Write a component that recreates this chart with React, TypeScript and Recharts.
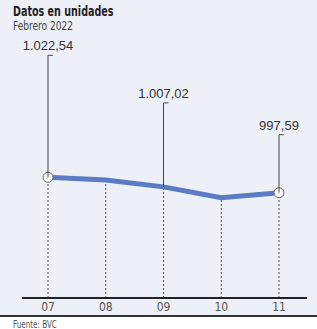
import React from 'react';
import { LineChart, Line, XAxis, YAxis, ReferenceLine, LabelList } from 'recharts';

const days = ['07', '08', '09', '10', '11'];
const closes = [1022.54, 1018.2, 1007.02, 989.5, 997.59];
const labelled = ['1.022,54', '', '1.007,02', '', '997,59'];

// how far above its point each callout sits (px)
const calloutLift: Record<string, number> = { '07': 122, '09': 84, '11': 58 };

const data = days.map((d, i) => ({ day: d, close: closes[i], tag: labelled[i] }));

const BG = '#eef0f7';
const LINE = '#5b7cc4';
const narrow = '"Liberation Sans Narrow", "DejaVu Sans Condensed", "Liberation Sans", sans-serif';
const Y_MIN = 827;

const Callout = (props: any) => {
  const { x, y, index } = props;
  const d = data[index];
  if (!d || !d.tag) return null;
  const lift = calloutLift[d.day];
  const top = y - lift;
  return (
    <g>
      <polyline points={`${x + 5},${top} ${x},${top} ${x},${y}`} fill="none" stroke="#444" strokeWidth={1} />
      <text x={x} y={top - 5} textAnchor="middle" fontSize={13} fill="#333" fontFamily='"Liberation Sans", Arial, sans-serif'>
        {d.tag}
      </text>
    </g>
  );
};

const EndDot = (props: any) => {
  const { cx, cy, index } = props;
  if (index !== 0 && index !== data.length - 1) return <g key={`d${index}`} />;
  return <circle key={`d${index}`} cx={cx} cy={cy} r={5} fill="#fff" stroke="#666" strokeWidth={1} />;
};

const squeeze = (k: number): React.CSSProperties => ({
  position: 'absolute',
  whiteSpace: 'nowrap',
  transform: `scaleX(${k})`,
  transformOrigin: 'left top',
});

export default function App() {
  return (
    <div style={{ position: 'absolute', left: 0, top: 0, width: 317, height: 329, background: '#fff', overflow: 'hidden' }}>
      <div style={{ position: 'absolute', left: 0, top: 0, width: 317, height: 316, background: BG }} />
      <div style={{ ...squeeze(0.76), left: 13, top: 3, fontFamily: narrow, fontWeight: 700, fontSize: 14, color: '#222', lineHeight: '16px' }}>
        Datos en unidades
      </div>
      <div style={{ ...squeeze(0.84), left: 13, top: 19, fontFamily: narrow, fontSize: 12, color: '#444', lineHeight: '14px' }}>
        Febrero 2022
      </div>
      <div style={{ position: 'absolute', left: 0, top: 0 }}>
        <LineChart width={317} height={316} data={data} margin={{ top: 40, right: 10, bottom: 0, left: 22 }}>
          <YAxis hide domain={[Y_MIN, 1245]} />
          <XAxis
            dataKey="day"
            height={18}
            padding={{ left: 26, right: 28 }}
            axisLine={{ stroke: '#222', strokeWidth: 2 }}
            tickLine={false}
            tickSize={2}
            tickMargin={2}
            tick={{ fontSize: 12, fill: '#555', fontFamily: narrow }}
          />
          {data.map((d) => (
            <ReferenceLine
              key={d.day}
              segment={[{ x: d.day, y: Y_MIN }, { x: d.day, y: d.close }]}
              stroke="#555"
              strokeDasharray="2 2"
              strokeWidth={1}
            />
          ))}
          <Line
            type="linear"
            dataKey="close"
            stroke={LINE}
            strokeWidth={5}
            dot={EndDot}
            activeDot={false}
            isAnimationActive={false}
          >
            <LabelList dataKey="tag" content={Callout} />
          </Line>
        </LineChart>
      </div>
      <div style={{ position: 'absolute', left: 0, top: 315, width: 317, height: 2, background: '#333' }} />
      <div style={{ ...squeeze(0.8), left: 13, top: 319, fontFamily: narrow, fontSize: 10, color: '#555', lineHeight: '11px' }}>
        Fuente: BVC
      </div>
    </div>
  );
}
